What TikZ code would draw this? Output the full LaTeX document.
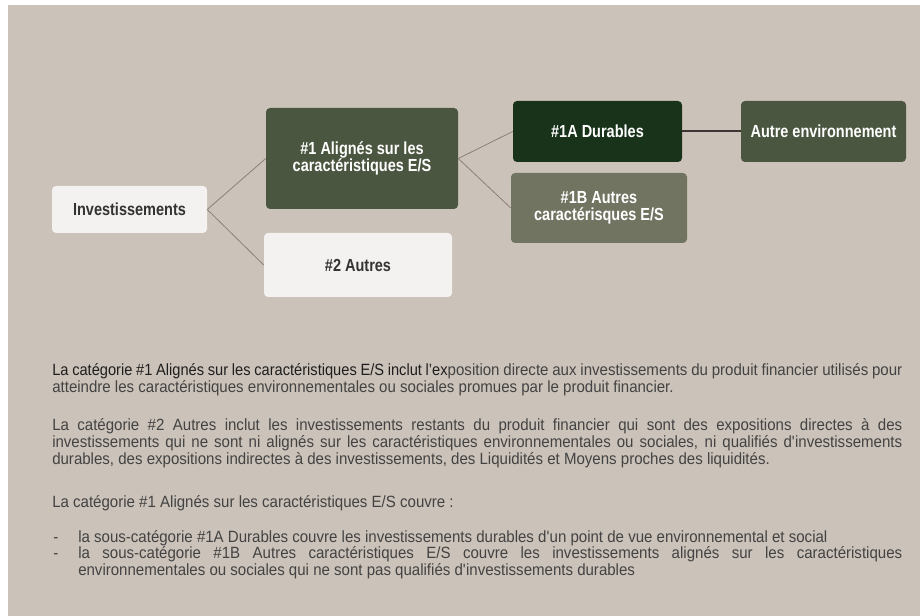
\documentclass[tikz,border=0pt]{standalone}
\usepackage{fontspec}
\setmainfont{Liberation Sans}[FakeStretch=0.925]
\newfontfamily\darkpart{Liberation Sans}[FakeStretch=0.9]
\newfontfamily\boxfont{Liberation Sans}[FakeStretch=0.83]
\definecolor{bgc}{HTML}{CBC2B9}
\definecolor{boxlight}{HTML}{F3F2F0}
\definecolor{boxmid}{HTML}{4B5640}
\definecolor{boxdark}{HTML}{19331B}
\definecolor{boxsoft}{HTML}{707461}
\definecolor{linkc}{HTML}{8B8078}
\definecolor{linkdark}{HTML}{3E3535}
\definecolor{txtbox}{HTML}{333333}
\definecolor{txtbody}{HTML}{434343}
\definecolor{txtdark}{HTML}{1E1E1E}
\tikzset{
  box/.style={rounded corners=3pt, inner sep=0pt, align=center,
    font=\boxfont\bfseries\fontsize{13.1}{12.9}\selectfont},
  lightbox/.style={box, fill=boxlight, text=txtbox},
  darkbox/.style={box, text=white},
  link/.style={draw=linkc, line width=0.6pt},
  thicklink/.style={draw=linkdark, line width=1.5pt},
  bodytext/.style={inner sep=0pt, anchor=base west, text=txtbody,
    font=\fontsize{12.2}{12.75}\selectfont},
}
\begin{document}
\begin{tikzpicture}[x=0.75pt,y=-0.75pt]
\useasboundingbox (0,0) rectangle (920,616);
\fill[white] (0,0) rectangle (920,616);
\fill[bgc] (8,5) rectangle (920,616);

\node[lightbox, minimum width=116.25pt, minimum height=35.25pt] (inv) at (129.5,209.5) {Investissements};
\node[darkbox, fill=boxmid, minimum width=144pt, minimum height=75.75pt] (al) at (362,158.5) {\#1 Alignés sur les\\caractéristiques E/S};
\node[lightbox, minimum width=141pt, minimum height=48pt] (au) at (358,265) {\#2 Autres};
\node[darkbox, fill=boxdark, minimum width=126.75pt, minimum height=45.75pt] (du) at (597.5,131.5) {\#1A Durables};
\node[darkbox, fill=boxmid, minimum width=123.75pt, minimum height=45.75pt] (env) at (823.5,131.5) {Autre environnement};
\node[darkbox, fill=boxsoft, minimum width=132pt, minimum height=52.5pt] (ac) at (599,208) {\#1B Autres\\caractérisques E/S};

\draw[link] (inv.east) -- (al.west);
\draw[link] (inv.east) -- (au.west);
\draw[link] (al.east) -- (du.west);
\draw[link] (al.east) -- (ac.west);
\draw[thicklink] (du.east) -- (env.west);

\node[bodytext] (p1) at (52,375.5) {\parbox[t]{637.5pt}{\leavevmode{\darkpart\color{txtdark}La catégorie \#1 Alignés sur les caractéristiques E/S inclut l’ex}position directe aux investissements du produit financier utilisés pour\linebreak atteindre les caractéristiques environnementales ou sociales promues par le produit financier.}};

\node[bodytext] (p2) at (52,430.5) {\parbox[t]{637.5pt}{La catégorie \#2 Autres inclut les investissements restants du produit financier qui sont des expositions directes à des\linebreak investissements qui ne sont ni alignés sur les caractéristiques environnementales ou sociales, ni qualifiés d\textquotesingle investissements\linebreak durables, des expositions indirectes à des investissements, des Liquidités et Moyens proches des liquidités.}};

\node[bodytext] (p3) at (52,507) {La catégorie \#1 Alignés sur les caractéristiques E/S couvre :};

\node[bodytext] (d1) at (53,542) {-};
\node[bodytext] (b1) at (78,542) {la sous-catégorie \#1A Durables couvre les investissements durables d\textquotesingle un point de vue environnemental et social};
\node[bodytext] (d2) at (53,558.5) {-};
\node[bodytext] (b2) at (78,558.5) {\parbox[t]{618pt}{la sous-catégorie \#1B Autres caractéristiques E/S couvre les investissements alignés sur les caractéristiques\linebreak environnementales ou sociales qui ne sont pas qualifiés d\textquotesingle investissements durables}};
\end{tikzpicture}
\end{document}
